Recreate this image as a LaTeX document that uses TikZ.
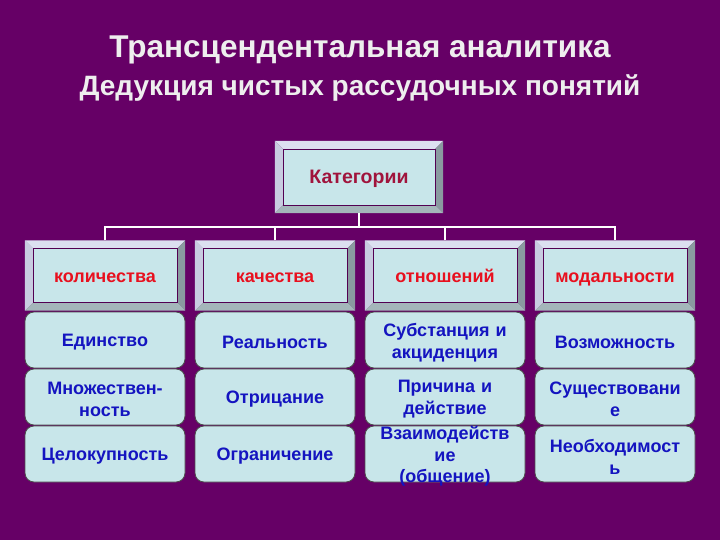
\documentclass[tikz,border=0pt]{standalone}
\usepackage{fontspec}
\setmainfont{Liberation Sans}
\usetikzlibrary{calc}
\definecolor{bgpurple}{HTML}{660066}
\definecolor{facecol}{HTML}{C8E6EA}
\definecolor{bevtopc}{HTML}{DCE0F0}
\definecolor{bevleftc}{HTML}{C8CCE0}
\definecolor{bevrightc}{HTML}{8A9AA0}
\definecolor{bevbotc}{HTML}{A4B6BA}
\definecolor{catred}{HTML}{A0143C}
\definecolor{headred}{HTML}{E8101E}
\definecolor{itemblue}{HTML}{1414C0}
\definecolor{titlecol}{HTML}{EEEEEE}
\tikzset{
  outerbox/.style={inner sep=0pt, draw=none},
  facebox/.style={fill=facecol, draw=bgpurple!80!black, line width=0.6pt, inner sep=0pt,
    text height=16pt, text depth=2pt},
  itembox/.style={fill=facecol, draw=black!70, line width=0.8pt, rounded corners=9pt,
    minimum width=160pt, minimum height=56pt, inner sep=0pt},
  itemtext/.style={inner sep=0pt, text=itemblue,
    font=\bfseries\fontsize{18}{22}\selectfont, align=center, text width=158pt},
  conn/.style={draw=white, line width=2pt},
}
\newcommand{\bevbox}[7]{% name, cx, cy, w, h, text, style
  \node[outerbox, minimum width=#4pt, minimum height=#5pt] (#1) at (#2,#3) {};
  \fill[bevtopc] (#1.north west) -- (#1.north east) -- ([shift={(-8,8)}]#1.north east) -- ([shift={(8,8)}]#1.north west) -- cycle;
  \fill[bevleftc] (#1.north west) -- ([shift={(8,8)}]#1.north west) -- ([shift={(8,-8)}]#1.south west) -- (#1.south west) -- cycle;
  \fill[bevrightc] (#1.north east) -- (#1.south east) -- ([shift={(-8,-8)}]#1.south east) -- ([shift={(-8,8)}]#1.north east) -- cycle;
  \fill[bevbotc] (#1.south west) -- (#1.south east) -- ([shift={(-8,-8)}]#1.south east) -- ([shift={(8,-8)}]#1.south west) -- cycle;
  \node[facebox, minimum width=#4pt-16pt, minimum height=#5pt-16pt, #7] (#1face) at (#2,#3) {#6};
}
\newcommand{\itm}[5][]{% [style] name, cx, cy, text
  \node[itembox] (#2) at (#3,#4) {};
  \node[itemtext, #1] (#2t) at ([yshift=-2.5pt]#2.center) {#5};
}
\begin{document}
\begin{tikzpicture}[x=1pt,y=-1pt]
\fill[bgpurple] (0,0) rectangle (720,540);
\useasboundingbox (0,0) rectangle (720,540);

\node[text=titlecol, font=\bfseries\fontsize{31.5}{36}\selectfont] (t1) at (360,50) {Трансцендентальная аналитика};
\node[text=titlecol, font=\bfseries\fontsize{28}{32}\selectfont] (t2) at (360,88) {Дедукция чистых рассудочных понятий};

\bevbox{cat}{359}{177}{168}{72}{Категории}{text=catred, font=\bfseries\fontsize{19.5}{22}\selectfont}

\bevbox{h1}{105}{275.5}{160}{70}{количества}{text=headred, font=\bfseries\fontsize{18}{22}\selectfont}
\bevbox{h2}{275}{275.5}{160}{70}{качества}{text=headred, font=\bfseries\fontsize{18}{22}\selectfont}
\bevbox{h3}{445}{275.5}{160}{70}{отношений}{text=headred, font=\bfseries\fontsize{18}{22}\selectfont}
\bevbox{h4}{615}{275.5}{160}{70}{модальности}{text=headred, font=\bfseries\fontsize{18}{22}\selectfont}

\coordinate (bus) at (359,227);
\draw[conn] (cat.south) -- (bus);
\draw[conn] (h1.north) -- (h1.north |- bus) -- (h4.north |- bus) -- (h4.north);
\draw[conn] (h2.north) -- (h2.north |- bus);
\draw[conn] (h3.north) -- (h3.north |- bus);

\itm{a1}{105}{340}{Единство}
\itm{a2}{105}{397}{Множествен-\\ность}
\itm{a3}{105}{454}{Целокупность}

\itm{b1}{275}{340}{Реальность}
\itm{b2}{275}{397}{Отрицание}
\itm{b3}{275}{454}{Ограничение}

\itm{c1}{445}{340}{Субстанция и\\акциденция}
\itm{c2}{445}{397}{Причина и\\действие}
\itm[font=\bfseries\fontsize{18}{21.5}\selectfont]{c3}{445}{454}{Взаимодейств\\ие\\(общение)}

\itm{d1}{615}{340}{Возможность}
\itm{d2}{615}{397}{Существовани\\е}
\itm{d3}{615}{454}{Необходимост\\ь}
\end{tikzpicture}
\end{document}
